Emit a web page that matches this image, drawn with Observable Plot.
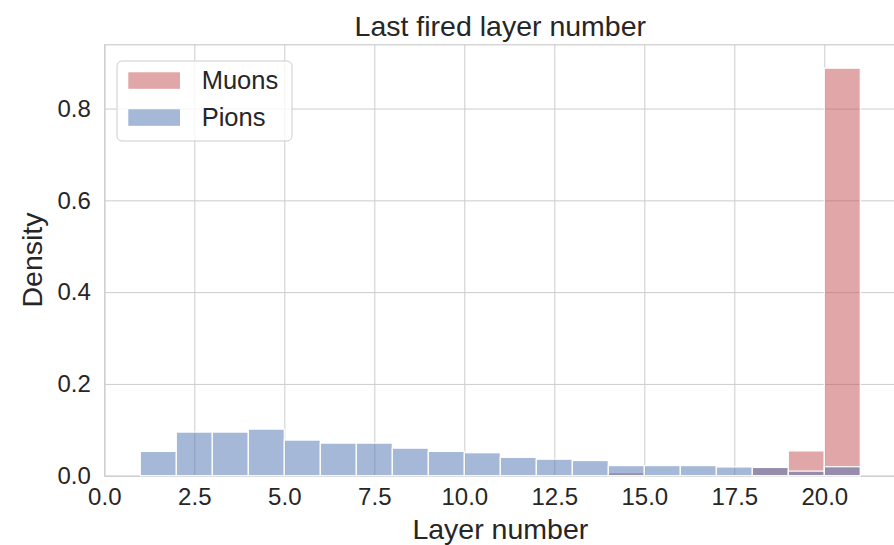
<!DOCTYPE html>
<html>
<head>
<meta charset="utf-8">
<script src="https://cdn.jsdelivr.net/npm/d3@7"></script>
<script src="https://cdn.jsdelivr.net/npm/@observablehq/plot@0.6"></script>
<style>
html, body { margin: 0; padding: 0; background: #fff; overflow: hidden; }
#chart svg { display: block; overflow: hidden; }
</style>
</head>
<body>
<div id="chart"></div>
<script>
// ---- data ----
const binStart = [1, 2, 3, 4, 5, 6, 7, 8, 9, 10, 11, 12, 13, 14, 15, 16, 17, 18, 19, 20];
const binWidth = 1;
const muons = [0, 0, 0, 0, 0, 0, 0, 0, 0, 0, 0, 0, 0, 0.0065, 0, 0, 0, 0.018, 0.054, 0.888];
const pions = [0.053, 0.095, 0.095, 0.1015, 0.0776, 0.071, 0.071, 0.060, 0.053, 0.050,
               0.040, 0.036, 0.033, 0.022, 0.022, 0.022, 0.019, 0.018, 0.010, 0.0196];
const seriesNames = ["Muons", "Pions"];
const seriesColors = ["#C44E52", "#4C72B0"];
const xTicks = [0, 2.5, 5, 7.5, 10, 12.5, 15, 17.5, 20];
const yTicks = [0, 0.2, 0.4, 0.6, 0.8];
const titleText = "Last fired layer number";
const xLabelText = "Layer number";
const yLabelText = "Density";

// ---- table for the library ----
const seriesValues = [muons, pions];
const rows = [];
seriesNames.forEach((name, k) => {
  binStart.forEach((b, i) => {
    rows.push({ series: name, x1: b, x2: b + binWidth, y: seriesValues[k][i] });
  });
});

const W = 894, H = 545;
const mL = 104.3, mR = -2.3, mT = 44.3, mB = 69.3;
const font = "'Liberation Sans', Arial, Helvetica, sans-serif";
const ink = "#262626";
const gridColor = "#cccccc";
const fmt = d3.format(".1f");

const plot = Plot.plot({
  width: W,
  height: H,
  marginLeft: mL,
  marginRight: mR,
  marginTop: mT,
  marginBottom: mB,
  style: { fontFamily: font, background: "white" },
  x: { domain: [0, 22], ticks: xTicks, tickFormat: fmt },
  y: { domain: [0, 0.94], ticks: yTicks, tickFormat: fmt },
  color: { domain: seriesNames, range: seriesColors },
  marks: [
    Plot.gridX(xTicks, { stroke: gridColor, strokeOpacity: 1, strokeWidth: 1 }),
    Plot.gridY(yTicks, { stroke: gridColor, strokeOpacity: 1, strokeWidth: 1 }),
    Plot.frame({ stroke: gridColor, strokeWidth: 1.2 }),
    Plot.rect(rows.filter(d => d.y > 0), {
      x1: "x1", x2: "x2", y1: 0, y2: "y",
      fill: "series", fillOpacity: 0.5,
      stroke: "white", strokeWidth: 1.2
    }),
    Plot.axisX(xTicks, { tickSize: 0, tickPadding: 12, fontSize: 24, color: ink, label: null, tickFormat: fmt }),
    Plot.axisY(yTicks, { tickSize: 0, tickPadding: 14, fontSize: 24, color: ink, label: null, tickFormat: fmt })
  ]
});

document.getElementById("chart").appendChild(plot);

// ---- titles & legend ----
const svg = d3.select(plot);
const xs = plot.scale("x");
const cx = (xs.range[0] + xs.range[1]) / 2;
const ys = plot.scale("y");
const cy = (ys.range[0] + ys.range[1]) / 2;

svg.append("text")
  .attr("x", cx).attr("y", 36)
  .attr("text-anchor", "middle")
  .attr("font-family", font).attr("font-size", 28.5).attr("fill", ink)
  .text(titleText);

svg.append("text")
  .attr("x", cx).attr("y", 538.5)
  .attr("text-anchor", "middle")
  .attr("font-family", font).attr("font-size", 28.5).attr("fill", ink)
  .text(xLabelText);

svg.append("text")
  .attr("transform", `translate(41.7,${cy}) rotate(-90)`)
  .attr("text-anchor", "middle")
  .attr("font-family", font).attr("font-size", 28.5).attr("fill", ink)
  .text(yLabelText);

const leg = svg.append("g");
leg.append("rect")
  .attr("x", 117).attr("y", 61).attr("width", 175).attr("height", 80)
  .attr("rx", 5).attr("ry", 5)
  .attr("fill", "white").attr("fill-opacity", 0.8)
  .attr("stroke", gridColor).attr("stroke-width", 1);
seriesNames.forEach((name, k) => {
  const y0 = 72.3 + k * 37;
  leg.append("rect")
    .attr("x", 128.3).attr("y", y0).attr("width", 51.7).attr("height", 16.5)
    .attr("fill", seriesColors[k]).attr("fill-opacity", 0.5);
  leg.append("text")
    .attr("x", 201.7).attr("y", y0 + 16.2)
    .attr("text-anchor", "start")
    .attr("font-family", font).attr("font-size", 25.5).attr("fill", ink)
    .text(name);
});
</script>
</body>
</html>
